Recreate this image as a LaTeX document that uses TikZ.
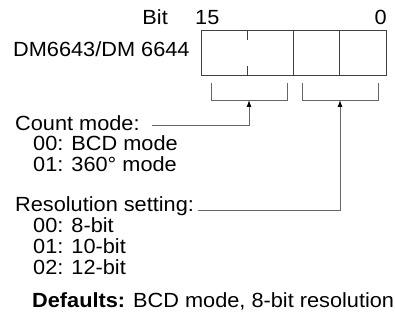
\documentclass[tikz,border=0pt]{standalone}
\usepackage{fontspec}
\setmainfont[FakeStretch=1.06]{Liberation Sans}
\usetikzlibrary{arrows.meta}
\begin{document}
\begin{tikzpicture}[x=1pt,y=-1pt,
  txt/.style={inner sep=0pt,font=\fontsize{20.5}{21}\selectfont},
  boxline/.style={draw=black!75,line width=0.9pt},
  brk/.style={draw=black!60,line width=0.9pt},
  conn/.style={draw=black!60,line width=0.9pt,-{Latex[length=7pt,width=5pt,black]}}]
\useasboundingbox (0,0) rectangle (395,323);
% register box
\draw[boxline] (201,30) rectangle (386,75);
\draw[boxline] (247,30) -- (247,40);
\draw[boxline] (247,66) -- (247,75);
\draw[boxline] (293,30) -- (293,75);
\draw[boxline] (339,30) -- (339,75);
% brackets
\draw[brk] (211,83) -- (211,100) -- (287,100) -- (287,83);
\draw[brk] (302,83) -- (302,100) -- (378,100) -- (378,83);
\coordinate (b1) at (249,100);
\coordinate (b2) at (340,100);
% labels
\node[txt,anchor=base east] (bit) at (168,25) {Bit};
\node[txt,anchor=base west] (b15) at (195,25) {15};
\node[txt,anchor=base east] (b0) at (387,25) {0};
\node[txt,anchor=base west] (dm) at (13,57) {DM6643/DM 6644};
\node[txt,anchor=base west] (cm) at (15,130) {Count mode:};
\node[txt,anchor=base west] (cm1) at (33,150.5) {00: BCD mode};
\node[txt,anchor=base west] (cm2) at (33,171) {01: 360° mode};
\node[txt,anchor=base west] (rs) at (15,211) {Resolution setting:};
\node[txt,anchor=base west] (rs1) at (33,232) {00: 8-bit};
\node[txt,anchor=base west] (rs2) at (33,253) {01: 10-bit};
\node[txt,anchor=base west] (rs3) at (33,274) {02: 12-bit};
\node[txt,anchor=base west] (def) at (32,307) {\textbf{Defaults:} BCD mode, 8-bit resolution};
% connectors
\draw[conn] (152,125) -| (b1);
\draw[conn] (198,210) -| (b2);
\end{tikzpicture}
\end{document}
